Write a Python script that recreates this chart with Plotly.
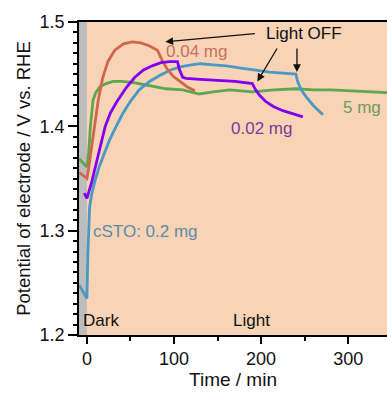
import plotly.graph_objects as go

# Potential transients under illumination for different catalyst loadings
red_x = [-9, 0, 2, 5, 9, 13, 18, 24, 32, 42, 52, 62, 72, 81, 86, 92, 99, 107, 115, 124]
red_y = [1.356, 1.350, 1.360, 1.378, 1.403, 1.425, 1.446, 1.462, 1.473, 1.479, 1.481,
         1.480, 1.477, 1.473, 1.464, 1.455, 1.448, 1.443, 1.438, 1.434]

purple_x = [-3, 0, 5, 10, 15, 21, 27, 34, 45, 55, 65, 75, 85, 95, 104, 106, 110, 114,
            130, 150, 170, 190, 193, 198, 205, 214, 225, 237, 248]
purple_y = [1.336, 1.331, 1.345, 1.362, 1.378, 1.400, 1.413, 1.423, 1.437, 1.447, 1.454,
            1.458, 1.461, 1.462, 1.462, 1.455, 1.447, 1.446, 1.445, 1.444, 1.443, 1.441,
            1.436, 1.430, 1.424, 1.419, 1.415, 1.412, 1.409]

blue_x = [-9, 0, 1, 2, 3, 5, 9, 14, 20, 26, 33, 41, 50, 60, 72, 84, 96, 107, 120, 130,
          145, 160, 175, 190, 210, 225, 240, 242, 246, 252, 260, 271]
blue_y = [1.248, 1.235, 1.275, 1.305, 1.322, 1.333, 1.347, 1.361, 1.375, 1.387, 1.399,
          1.412, 1.424, 1.435, 1.443, 1.449, 1.454, 1.457, 1.459, 1.460, 1.459, 1.458,
          1.456, 1.454, 1.452, 1.451, 1.450, 1.443, 1.435, 1.428, 1.420, 1.411]

green_x = [-9, 0, 2, 4, 7, 10, 15, 22, 30, 40, 53, 70, 91, 110, 129, 145, 164, 190,
           215, 240, 260, 280, 300, 320, 350]
green_y = [1.369, 1.361, 1.375, 1.400, 1.425, 1.432, 1.438, 1.441, 1.443, 1.443, 1.442,
           1.439, 1.436, 1.435, 1.431, 1.433, 1.435, 1.433, 1.435, 1.436, 1.435, 1.435,
           1.434, 1.433, 1.432]

x_ticks = [0, 100, 200, 300]
y_ticks = [1.2, 1.3, 1.4, 1.5]

FONT = "Liberation Sans, Arial, sans-serif"
X_MIN, X_MAX = -9.1, 344.6

fig = go.Figure()

series = [
    (green_x, green_y, "#5DA84E"),
    (blue_x, blue_y, "#4A98C4"),
    (red_x, red_y, "#D0674D"),
    (purple_x, purple_y, "#8000F0"),
]
for xs, ys, col in series:
    fig.add_trace(go.Scatter(x=xs, y=ys, mode="lines",
                             line=dict(color=col, width=2.8), showlegend=False))

# dark period strip
fig.add_shape(type="rect", xref="x", yref="y", x0=X_MIN, x1=0, y0=1.2, y1=1.5,
              fillcolor="#BDBDBD", line_width=0, layer="below")

labels = [
    (89, 1.472, "0.04 mg", "#C8705C", "left"),
    (200, 1.398, "0.02 mg", "#7A3E98", "center"),
    (316, 1.418, "5 mg", "#6A9E5A", "center"),
    (5, 1.299, "cSTO: 0.2 mg", "#5A8DA8", "left"),
    (-6.8, 1.214, "Dark", "#111111", "left"),
    (189, 1.214, "Light", "#111111", "center"),
    (249, 1.489, "Light OFF", "#111111", "center"),
]
for x, y, t, c, anchor in labels:
    fig.add_annotation(x=x, y=y, text=t, showarrow=False, xanchor=anchor,
                       font=dict(family=FONT, size=17, color=c))

arrows = [
    (194.6, 1.489, 90.0, 1.481),
    (219.4, 1.476, 195.7, 1.443),
    (241.2, 1.476, 241.2, 1.452),
]
for tx, ty, hx, hy in arrows:
    fig.add_annotation(x=hx, y=hy, ax=tx, ay=ty, xref="x", yref="y",
                       axref="x", ayref="y", text="", showarrow=True,
                       arrowhead=2, arrowsize=1.2, arrowwidth=1.3, arrowcolor="#111111")

fig.update_layout(
    width=387, height=394,
    margin=dict(l=79, r=0, t=22, b=59),
    paper_bgcolor="white",
    plot_bgcolor="#F9D3B6",
    font=dict(family=FONT, size=18, color="#111111"),
    xaxis=dict(
        range=[X_MIN, X_MAX], tickvals=x_ticks, ticks="outside", ticklen=7,
        tickwidth=1.6, tickcolor="black", showline=True, linecolor="black",
        linewidth=1.6, mirror=True, showgrid=False, zeroline=False,
        tickfont=dict(size=18), title=dict(text="Time / min", font=dict(size=19), standoff=1),
        minor=dict(tickvals=[50, 150, 250], ticks="outside", ticklen=4,
                   tickwidth=1.5, tickcolor="black"),
    ),
    yaxis=dict(
        range=[1.2, 1.5], tickvals=y_ticks, ticktext=["1.2", "1.3", "1.4", "1.5"],
        ticks="outside", ticklen=9, tickwidth=1.6, tickcolor="black",
        showline=True, linecolor="black", linewidth=1.6, showgrid=False,
        zeroline=False, tickfont=dict(size=18),
        title=dict(text="Potential of electrode / V vs. RHE", font=dict(size=18.5), standoff=4),
        minor=dict(dtick=0.01, ticks="outside", ticklen=4, tickwidth=1.5, tickcolor="black"),
    ),
)

fig.write_html("out.html")
